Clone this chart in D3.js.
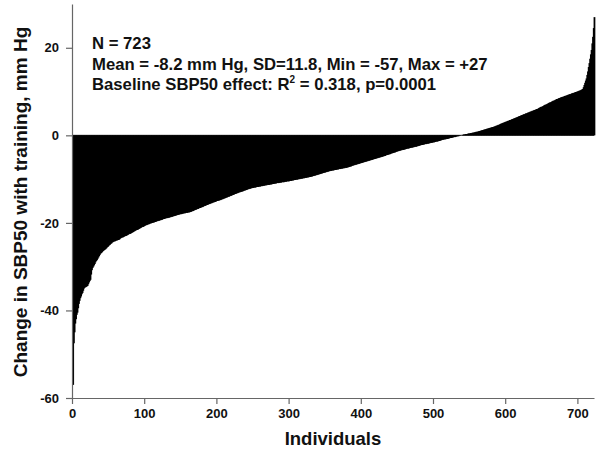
<!DOCTYPE html>
<html>
<head>
<meta charset="utf-8">
<script src="https://cdn.jsdelivr.net/npm/d3@7"></script>
<style>
  body { margin: 0; background: #fff; }
  text { font-family: "Liberation Sans", Arial, sans-serif; font-weight: bold; fill: #111; }
</style>
</head>
<body>
<div id="chart"></div>
<script>
// individual changes, sorted ascending (mm Hg)
var sbpChange = [
  -57.0, -47.5, -45.0, -43.0, -42.0, -41.0, -40.5, -39.5, -38.5, -37.8, -37.2, -36.8, -36.3, -36.0, -35.5, -35.0, -34.8, -34.7, -34.6, -34.5, -34.4, -34.0, -33.6, -33.3, -33.0, -31.8, -30.8, -30.3,
  -30.0, -29.7, -29.4, -29.0, -28.7, -28.5, -28.2, -27.9, -27.6, -27.3, -27.0, -26.9, -26.7, -26.5, -26.4, -26.2, -26.1, -26.0, -25.8, -25.6, -25.5, -25.3, -25.1, -25.0, -24.8, -24.7, -24.5,
  -24.4, -24.3, -24.2, -24.2, -24.1, -24.0, -24.0, -23.9, -23.9, -23.8, -23.6, -23.5, -23.4, -23.3, -23.3, -23.2, -23.1, -23.0, -23.0, -22.9, -22.8, -22.7, -22.6, -22.5, -22.5, -22.4, -22.3, -22.2, -22.1, -22.0,
  -21.9, -21.8, -21.7, -21.6, -21.6, -21.5, -21.4, -21.3, -21.2, -21.1, -21.0, -20.9, -20.9, -20.8, -20.7, -20.6, -20.5, -20.5, -20.4,
  -20.3, -20.3, -20.2, -20.1, -20.1, -20.0, -20.0, -19.9, -19.9, -19.8, -19.8, -19.7, -19.6, -19.6, -19.5, -19.5, -19.4, -19.4, -19.3, -19.3, -19.2,
  -19.1, -19.1, -19.0, -19.0, -18.9, -18.9, -18.9, -18.8, -18.8, -18.7, -18.7, -18.6, -18.6, -18.5, -18.5, -18.4, -18.4, -18.3, -18.3, -18.2, -18.2,
  -18.1, -18.1, -18.0, -18.0, -18.0, -17.9, -17.9, -17.8, -17.8, -17.8, -17.7, -17.7, -17.7, -17.6, -17.6, -17.6, -17.5, -17.5,
  -17.4, -17.3, -17.3, -17.2, -17.1, -17.0, -17.0, -16.9, -16.8, -16.8, -16.7, -16.6, -16.6, -16.5, -16.4, -16.4, -16.3, -16.2,
  -16.1, -16.1, -16.0, -15.9, -15.9, -15.8, -15.7, -15.7, -15.6, -15.5, -15.5, -15.4, -15.3, -15.3, -15.2, -15.2, -15.1, -15.0, -15.0, -14.9, -14.9, -14.8, -14.8, -14.7,
  -14.6, -14.6, -14.5, -14.4, -14.4, -14.3, -14.2, -14.2, -14.1, -14.0, -14.0, -13.9, -13.8, -13.8, -13.7, -13.6, -13.6, -13.5, -13.4, -13.4, -13.3, -13.2, -13.2, -13.1, -13.0,
  -13.0, -12.9, -12.9, -12.8, -12.8, -12.7, -12.6, -12.6, -12.5, -12.5, -12.4, -12.3, -12.3, -12.2, -12.2, -12.1,
  -12.1, -12.0, -12.0, -12.0, -11.9, -11.9, -11.9, -11.8, -11.8, -11.8, -11.7, -11.7, -11.7, -11.6, -11.6, -11.6, -11.5, -11.5, -11.5, -11.4, -11.4, -11.4, -11.3, -11.3, -11.3, -11.3, -11.2, -11.2,
  -11.2, -11.1, -11.1, -11.1, -11.0, -11.0, -11.0, -10.9, -10.9, -10.9, -10.9, -10.8, -10.8, -10.8, -10.7, -10.7, -10.7, -10.7, -10.6, -10.6, -10.6, -10.5, -10.5, -10.5, -10.5, -10.4, -10.4, -10.4,
  -10.3, -10.3, -10.3, -10.2, -10.2, -10.2, -10.1, -10.1, -10.1, -10.0, -10.0, -10.0, -9.9, -9.9, -9.9, -9.8, -9.8, -9.8, -9.7, -9.7, -9.7, -9.6, -9.6, -9.6, -9.5, -9.5, -9.5,
  -9.4, -9.4, -9.3, -9.3, -9.2, -9.2, -9.1, -9.1, -9.0, -9.0, -8.9, -8.9, -8.8, -8.8, -8.7, -8.7, -8.6, -8.6, -8.5, -8.5, -8.4, -8.4, -8.3, -8.3, -8.2, -8.2, -8.1, -8.1,
  -8.1, -8.0, -8.0, -8.0, -7.9, -7.9, -7.9, -7.8, -7.8, -7.8, -7.7, -7.7, -7.7, -7.6, -7.6, -7.6, -7.5, -7.5, -7.5, -7.4, -7.4, -7.4, -7.3, -7.3, -7.2, -7.2, -7.1, -7.1,
  -7.0, -6.9, -6.9, -6.8, -6.8, -6.7, -6.7, -6.6, -6.6, -6.5, -6.5, -6.4, -6.4, -6.3, -6.3, -6.2, -6.2, -6.1, -6.1, -6.0, -6.0, -5.9, -5.9, -5.8, -5.8, -5.7, -5.7, -5.6,
  -5.6, -5.5, -5.5, -5.4, -5.4, -5.3, -5.3, -5.2, -5.2, -5.1, -5.1, -5.0, -5.0, -4.9, -4.9, -4.8, -4.8, -4.7, -4.7, -4.6, -4.5, -4.5, -4.4,
  -4.4, -4.3, -4.3, -4.2, -4.1, -4.1, -4.0, -4.0, -3.9, -3.9, -3.8, -3.7, -3.7, -3.6, -3.6, -3.5, -3.5, -3.4,
  -3.4, -3.3, -3.3, -3.3, -3.2, -3.2, -3.1, -3.1, -3.0, -3.0, -3.0, -2.9, -2.9, -2.8, -2.8, -2.8, -2.7, -2.7, -2.6, -2.6, -2.6, -2.5, -2.5, -2.4, -2.4, -2.3, -2.3, -2.2,
  -2.2, -2.2, -2.1, -2.1, -2.0, -2.0, -2.0, -1.9, -1.9, -1.9, -1.8, -1.8, -1.7, -1.7, -1.7, -1.6, -1.6, -1.6, -1.5, -1.5, -1.4, -1.4, -1.4, -1.3, -1.3, -1.2, -1.2, -1.1,
  -1.0, -1.0, -1.0, -0.9, -0.9, -0.9, -0.8, -0.8, -0.8, -0.7, -0.7, -0.6, -0.6, -0.6, -0.5, -0.5, -0.4, -0.4, -0.4, -0.3, -0.3, -0.2, -0.2, -0.2, -0.1, -0.1, 0.0,
  0.0, 0.1, 0.1, 0.2, 0.2, 0.2, 0.3, 0.3, 0.3, 0.4, 0.4, 0.4, 0.5, 0.5, 0.5, 0.6, 0.6, 0.6, 0.7, 0.7, 0.8, 0.8, 0.8, 0.9, 0.9, 1.0, 1.0, 1.1,
  1.1, 1.2, 1.2, 1.3, 1.3, 1.4, 1.4, 1.5, 1.5, 1.6, 1.6, 1.7, 1.7, 1.8, 1.8, 1.9, 1.9, 2.0, 2.0, 2.1, 2.2, 2.2, 2.3, 2.4, 2.4, 2.5, 2.6, 2.7,
  2.7, 2.8, 2.9, 2.9, 3.0, 3.1, 3.1, 3.2, 3.3, 3.3, 3.4, 3.5, 3.5, 3.6, 3.7, 3.7, 3.8, 3.9, 3.9, 4.0, 4.1, 4.1, 4.2, 4.3, 4.4, 4.4, 4.5, 4.6,
  4.6, 4.7, 4.8, 4.8, 4.9, 5.0, 5.0, 5.1, 5.2, 5.2, 5.3, 5.4, 5.4, 5.5, 5.6, 5.6, 5.7, 5.8, 5.8, 5.9, 6.0, 6.0, 6.1,
  6.2, 6.3, 6.4, 6.5, 6.5, 6.6, 6.7, 6.8, 6.9, 7.0, 7.0, 7.1, 7.2, 7.3, 7.4, 7.5, 7.5, 7.6, 7.7, 7.8, 7.9, 7.9, 8.0, 8.1, 8.2, 8.3, 8.3, 8.4,
  8.5, 8.5, 8.6, 8.7, 8.7, 8.8, 8.8, 8.9, 9.0, 9.0, 9.1, 9.1, 9.2, 9.3, 9.3, 9.4, 9.4, 9.5, 9.6, 9.6, 9.7, 9.7, 9.8, 9.9, 9.9, 10.0, 10.0, 10.1, 10.2, 10.2, 10.3, 10.4, 10.5, 10.6,
  11.0, 11.5, 12.0, 12.5, 13.0, 13.8, 14.6, 15.6, 16.5, 17.5, 18.5, 19.5, 21.0, 22.5, 24.5, 27.0
];

var xTicks = [0, 100, 200, 300, 400, 500, 600, 700];
var yTicks = [-60, -40, -20, 0, 20];

var statLines = [
  ["N = 723"],
  ["Mean = -8.2 mm Hg, SD=11.8, Min = -57, Max = +27"],
  ["Baseline SBP50 effect: R", "2", " = 0.318, p=0.0001"]
];

function init() {
    var width = 596;
    var height = 452;
    var margin = { top: 4, right: 2, bottom: 54, left: 72 };

    var svg = d3.select("#chart")
        .append("svg")
        .attr("width", width)
        .attr("height", height);

    var x = d3.scaleLinear()
        .domain([0, sbpChange.length])
        .range([margin.left, width - margin.right]);

    var y = d3.scaleLinear()
        .domain([-60, 30])
        .range([height - margin.bottom, margin.top]);

    var step = x(1) - x(0);

    // zero line
    svg.append("line")
        .attr("x1", x(0))
        .attr("x2", x(sbpChange.length))
        .attr("y1", y(0))
        .attr("y2", y(0))
        .attr("stroke", "#666")
        .attr("stroke-width", 1.2);

    // one bar per individual (slightly widened so neighbours overlap, no gaps)
    svg.selectAll(".bar")
        .data(sbpChange)
        .enter()
        .append("rect")
        .attr("class", "bar")
        .attr("x", function (d, i) { return x(i) + 0.3; })
        .attr("width", step + 1.05)
        .attr("y", function (d) { return y(Math.max(d, 0)); })
        .attr("height", function (d) { return Math.abs(y(d) - y(0)); })
        .attr("fill", "#000");

    // axes
    var xAxis = svg.append("g")
        .attr("transform", "translate(0," + y(-60) + ")")
        .call(d3.axisBottom(x).tickValues(xTicks).tickSize(6).tickSizeOuter(0).tickPadding(5)
            .tickFormat(function (d) { return String(d); }));

    var yAxis = svg.append("g")
        .attr("transform", "translate(" + x(0) + ",0)")
        .call(d3.axisLeft(y).tickValues(yTicks).tickSize(6).tickSizeOuter(0).tickPadding(7)
            .tickFormat(function (d) { return String(d); }));

    [xAxis, yAxis].forEach(function (g) {
        g.select(".domain").attr("stroke", "#666").attr("stroke-width", 1.2);
        g.selectAll(".tick line").attr("stroke", "#666").attr("stroke-width", 1.2);
        g.selectAll(".tick text")
            .attr("fill", "#111")
            .style("font-size", "13px")
            .style("font-weight", "bold")
            .style("font-family", "'Liberation Sans', Arial, sans-serif");
    });

    // axis titles
    svg.append("text")
        .attr("x", (x(0) + x(sbpChange.length)) / 2)
        .attr("y", 445)
        .attr("text-anchor", "middle")
        .style("font-size", "18.5px")
        .text("Individuals");

    svg.append("text")
        .attr("transform", "translate(27,202) rotate(-90)")
        .attr("text-anchor", "middle")
        .style("font-size", "19px")
        .text("Change in SBP50 with training, mm Hg");

    // stats box
    var stats = svg.append("text")
        .style("font-size", "16.7px");

    statLines.forEach(function (parts, k) {
        stats.append("tspan")
            .attr("x", 92)
            .attr("y", 49 + k * 20.5)
            .text(parts[0]);
        if (parts.length > 1) {
            stats.append("tspan")
                .attr("dy", -7)
                .style("font-size", "10px")
                .text(parts[1]);
            stats.append("tspan")
                .attr("dy", 7)
                .text(parts[2]);
        }
    });
}

window.onload = init;
</script>
</body>
</html>
